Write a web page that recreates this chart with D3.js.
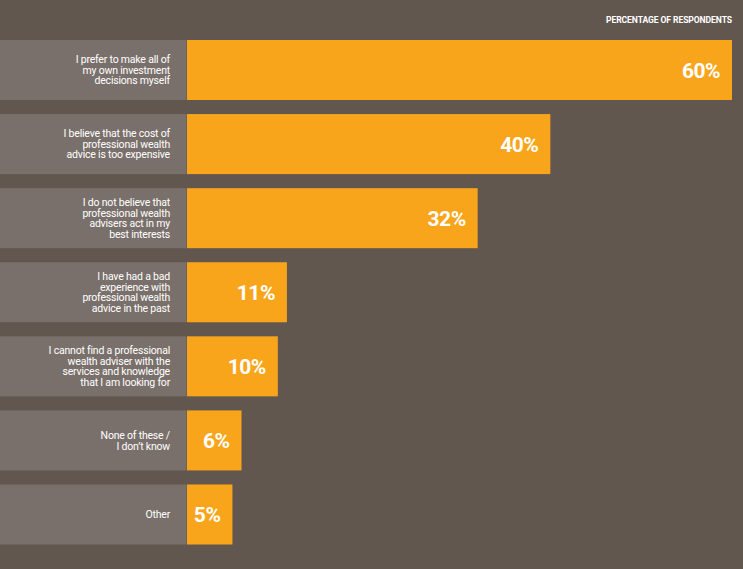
<!DOCTYPE html>
<html>
<head>
<meta charset="utf-8">
<script src="https://cdn.jsdelivr.net/npm/d3@7"></script>
<style>
  html, body { margin: 0; padding: 0; background: #62574f; }
  svg { display: block; }
</style>
</head>
<body>
<svg id="chart" width="743" height="569"></svg>
<script>
const categories = [
  ["I prefer to make all of", "my own investment", "decisions myself"],
  ["I believe that the cost of", "professional wealth", "advice is too expensive"],
  ["I do not believe that", "professional wealth", "advisers act in my", "best interests"],
  ["I have had a bad", "experience with", "professional wealth", "advice in the past"],
  ["I cannot find a professional", "wealth adviser with the", "services and knowledge", "that I am looking for"],
  ["None of these /", "I don\u2019t know"],
  ["Other"]
];
const values = [60, 40, 32, 11, 10, 6, 5];
const valueLabels = ["60%", "40%", "32%", "11%", "10%", "6%", "5%"];
const headerText = "PERCENTAGE OF RESPONDENTS";

const W = 743, H = 569;
const svg = d3.select("#chart");

svg.append("rect").attr("width", W).attr("height", H).attr("fill", "#62574f");

const idx = d3.range(values.length);
const y = d3.scaleBand().domain(idx).range([40, 544.5]).paddingInner(0.19).paddingOuter(0);
const x = d3.scaleLinear().domain([0, 60]).range([187, 732]);

const rows = svg.selectAll("g.row").data(idx).join("g").attr("class", "row");

// label panel
rows.append("rect")
  .attr("x", 0)
  .attr("y", i => y(i))
  .attr("width", x(0) - 0.5)
  .attr("height", y.bandwidth())
  .attr("fill", "#7a706b");

// bars
rows.append("rect")
  .attr("x", x(0))
  .attr("y", i => y(i))
  .attr("width", i => x(values[i]) - x(0))
  .attr("height", y.bandwidth())
  .attr("fill", "#f9a51c");

// category labels
const lineH = 10.6;
rows.append("text")
  .attr("text-anchor", "end")
  .attr("fill", "#ffffff")
  .attr("font-family", "Roboto, sans-serif")
  .attr("font-size", 10.5)
  .attr("letter-spacing", -0.2)
  .each(function(i) {
    const lines = categories[i];
    const cy = y(i) + y.bandwidth() / 2;
    const first = cy - (lines.length - 1) * lineH / 2 + 3.8;
    d3.select(this).selectAll("tspan").data(lines).join("tspan")
      .attr("x", 170)
      .attr("y", (d, j) => first + j * lineH)
      .text(d => d);
  });

// value labels
rows.append("text")
  .attr("text-anchor", "end")
  .attr("x", i => x(values[i]) - 12)
  .attr("y", i => y(i) + y.bandwidth() / 2 + 8)
  .attr("fill", "#ffffff")
  .attr("font-family", "Roboto, sans-serif")
  .attr("font-weight", "bold")
  .attr("font-size", 21)
  .attr("letter-spacing", -0.5)
  .text(i => valueLabels[i]);

// header
svg.append("text")
  .attr("x", 732)
  .attr("y", 23)
  .attr("text-anchor", "end")
  .attr("fill", "#ffffff")
  .attr("font-family", "Roboto, sans-serif")
  .attr("font-weight", "bold")
  .attr("font-size", 8.6)
  .attr("letter-spacing", -0.1)
  .text(headerText);
</script>
</body>
</html>
